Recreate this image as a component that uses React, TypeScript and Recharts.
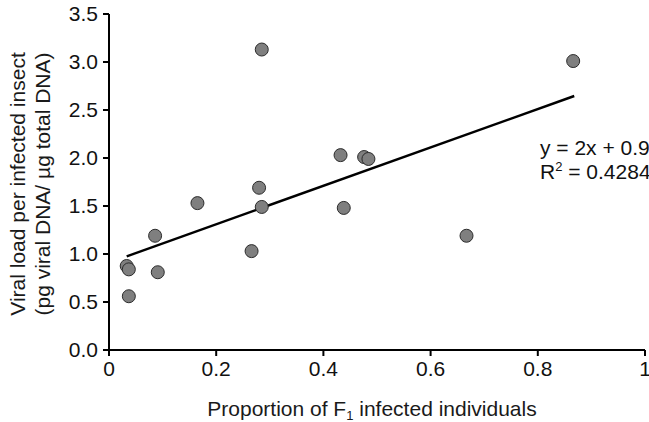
import React from 'react';
import { ScatterChart, Scatter, XAxis, YAxis, ReferenceLine, Label } from 'recharts';

// proportion of F1 infected individuals vs viral load
const proportion = [0.033, 0.037, 0.037, 0.086, 0.091, 0.165, 0.266, 0.280, 0.285, 0.285, 0.432, 0.438, 0.476, 0.484, 0.667, 0.866];
const viralLoad = [0.875, 0.84, 0.56, 1.19, 0.81, 1.53, 1.03, 1.69, 1.49, 3.13, 2.03, 1.48, 2.01, 1.99, 1.19, 3.01];

const xTicks = [0, 0.2, 0.4, 0.6, 0.8, 1];
const yTicks = [0, 0.5, 1, 1.5, 2, 2.5, 3, 3.5];

// linear fit y = 2x + 0.91
const trendX = [0.033, 0.868];
const trendY = [0.976, 2.646];

const points = proportion.map((x, i) => ({ x, y: viralLoad[i] }));
const FONT = '"Liberation Sans", Arial, sans-serif';

const Dot = (p: any) => <circle cx={p.cx} cy={p.cy} r={6.5} fill="#7f7f7f" stroke="#2b2b2b" strokeWidth={1} />;

const YLabel = () => (
  <g fontFamily={FONT} fontSize={21} fill="#1a1a1a" textAnchor="middle">
    <text x={25} y={184} transform="rotate(-90, 25, 184)">Viral load per infected insect</text>
    <text x={50} y={184} transform="rotate(-90, 50, 184)">(pg viral DNA/ µg total DNA)</text>
  </g>
);

const XLabel = () => (
  <text x={372} y={416} fontFamily={FONT} fontSize={21} fill="#1a1a1a" textAnchor="middle">
    Proportion of F<tspan fontSize={13} dy={4}>1</tspan><tspan dy={-4}> infected individuals</tspan>
  </text>
);

const Equation = () => (
  <g fontFamily={FONT} fontSize={21} fill="#111">
    <text x={540} y={155}>y = 2x + 0.9</text>
    <text x={540} y={179}>R<tspan fontSize={13} dy={-8}>2</tspan><tspan dy={8}> = 0.4284</tspan></text>
  </g>
);

export default function App() {
  return (
    <div style={{ position: 'absolute', left: 0, top: 0, background: '#fff' }}>
      <ScatterChart width={649} height={422} margin={{ top: 14, right: 4, bottom: 0, left: 0 }}>
        <XAxis
          type="number"
          dataKey="x"
          domain={[0, 1]}
          ticks={xTicks}
          tickFormatter={(v: number) => (v === 0 || v === 1 ? String(v) : v.toFixed(1))}
          height={72}
          axisLine={{ stroke: '#000', strokeWidth: 2 }}
          tickLine={{ stroke: '#000', strokeWidth: 2 }}
          tickSize={6}
          tickMargin={5}
          tick={{ fill: '#111', fontSize: 21, fontFamily: FONT }}
          interval={0}
        >
          <Label content={<XLabel />} />
        </XAxis>
        <YAxis
          type="number"
          dataKey="y"
          domain={[0, 3.5]}
          ticks={yTicks}
          tickFormatter={(v: number) => v.toFixed(1)}
          width={109}
          axisLine={{ stroke: '#000', strokeWidth: 2 }}
          tickLine={{ stroke: '#000', strokeWidth: 2 }}
          tickSize={6}
          tickMargin={5}
          tick={{ fill: '#111', fontSize: 21, fontFamily: FONT }}
          interval={0}
        >
          <Label content={<YLabel />} />
        </YAxis>
        <ReferenceLine
          segment={[{ x: trendX[0], y: trendY[0] }, { x: trendX[1], y: trendY[1] }]}
          stroke="#000"
          strokeWidth={2.5}
          ifOverflow="visible"
        >
          <Label content={<Equation />} />
        </ReferenceLine>
        <Scatter data={points} shape={Dot} isAnimationActive={false} />
      </ScatterChart>
    </div>
  );
}
